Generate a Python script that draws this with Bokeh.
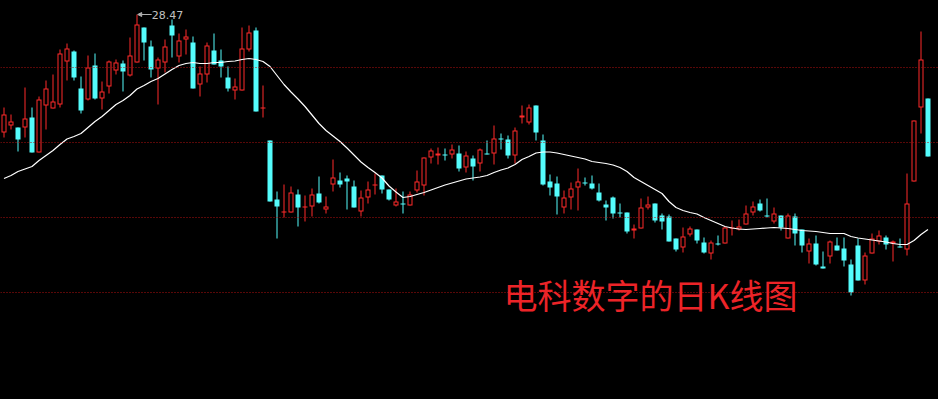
from bokeh.plotting import figure
from bokeh.models import ColumnDataSource, Range1d, Span, Label, Arrow, NormalHead
from bokeh.embed import file_html
from bokeh.resources import INLINE

# Daily OHLC (price) for 电科数字
opens = [23.75,24.03,23.95,23.95,24.35,22.95,24.83,24.71,24.87,26.59,
         26.99,25.51,25.07,26.43,25.11,25.59,26.23,26.51,26.03,26.55,
         27.95,27.19,26.31,26.55,28.03,26.79,27.47,27.35,25.67,26.07,
         27.03,26.63,25.95,25.43,25.43,27.07,27.83,24.73,23.43,21.07,
         20.57,20.55,21.27,20.77,20.79,21.31,20.67,21.67,21.83,21.91,
         21.59,20.59,21.15,21.65,22.03,21.47,20.83,20.91,20.83,21.43,
         21.63,22.75,22.83,22.87,22.87,22.91,22.35,22.71,22.51,22.91,
         22.91,23.51,23.47,22.83,24.35,24.15,24.83,23.43,21.79,21.71,
         20.75,21.15,21.55,21.75,21.71,21.35,20.87,21.15,20.55,20.55,
         19.83,19.91,20.75,20.91,20.43,20.39,19.51,19.15,19.67,19.87,
         19.35,18.91,19.31,19.31,19.93,19.87,20.07,20.55,20.91,20.43,
         20.19,20.43,19.51,20.39,19.87,18.99,19.31,18.39,18.79,19.23,
         19.11,18.47,19.23,17.83,18.91,19.39,19.55,19.31,19.19,19.07,
         21.79,24.75,25.11]
highs = [24.75,24.47,23.95,25.55,24.75,25.19,25.83,26.07,27.07,27.31,
         27.03,25.99,26.83,26.91,25.79,26.63,26.67,26.63,27.55,28.47,
         27.95,27.43,26.75,27.47,28.27,27.71,27.87,27.59,26.39,27.35,
         27.71,27.07,26.39,25.91,27.95,28.03,27.95,25.63,23.43,21.39,
         21.67,21.59,21.47,21.23,21.51,21.99,21.19,22.67,22.15,22.03,
         21.83,21.43,21.79,22.11,22.03,21.47,21.51,21.39,21.39,22.23,
         22.75,23.11,23.15,23.11,23.27,23.23,22.99,22.83,23.11,23.43,
         24.03,23.71,23.63,23.95,24.83,24.87,24.83,23.67,22.07,21.99,
         21.43,21.75,22.31,21.95,22.03,21.71,21.03,21.19,20.91,20.55,
         20.07,21.11,21.19,20.91,20.51,20.47,19.51,19.95,19.99,19.87,
         19.55,19.43,19.63,19.99,20.23,20.27,20.83,20.99,21.07,21.11,
         20.75,20.43,20.51,20.51,19.87,19.51,19.63,18.99,19.43,19.55,
         19.55,18.67,19.51,18.95,19.71,19.83,19.63,19.43,19.51,22.11,
         24.23,27.79,25.11]
lows = [23.55,23.87,22.99,23.55,22.95,22.95,23.87,24.71,24.75,25.83,
        25.83,24.51,25.03,25.07,24.67,25.31,26.07,25.39,25.99,26.55,
        26.63,25.95,24.87,26.15,26.75,26.55,26.87,25.51,25.19,25.75,
        26.47,25.95,25.39,25.07,25.43,26.99,24.59,24.35,20.99,19.51,
        20.35,20.55,19.99,20.19,20.39,20.91,20.51,21.39,21.55,20.67,
        20.75,20.39,20.91,21.27,21.31,21.03,20.79,20.51,20.83,21.35,
        21.23,22.51,22.47,22.63,22.71,22.19,22.15,21.83,22.19,22.87,
        22.47,23.07,22.71,22.51,24.11,24.07,23.43,21.63,21.23,20.47,
        20.51,20.67,20.63,21.63,21.47,20.99,20.23,20.31,20.35,19.71,
        19.51,19.91,20.67,20.15,19.87,19.39,18.99,18.95,19.59,19.31,
        18.91,18.67,19.23,19.31,19.63,19.83,20.07,20.43,20.59,20.35,
        20.11,19.83,19.51,19.23,18.95,18.51,18.43,18.31,18.51,19.03,
        18.39,17.23,17.83,17.67,18.91,19.27,19.07,18.59,19.15,18.83,
        21.79,23.71,22.79]
closes = [24.47,24.19,23.47,24.31,22.95,25.07,25.51,24.99,26.91,27.11,
          25.95,24.63,26.35,25.11,25.39,26.59,26.55,26.19,26.83,28.07,
          27.35,26.27,26.67,27.19,27.63,27.43,27.59,25.51,26.11,27.23,
          26.47,26.39,25.51,25.59,27.11,27.75,24.59,24.75,20.99,20.79,
          20.59,21.35,20.75,20.79,21.27,20.95,20.79,21.95,21.67,21.79,
          20.75,21.15,21.47,21.67,21.47,21.07,20.99,20.89,21.27,21.79,
          22.75,23.03,22.91,22.85,23.07,22.31,22.83,22.39,23.07,22.89,
          23.51,23.49,22.83,23.83,24.43,24.75,23.75,21.67,21.55,21.19,
          21.15,21.51,21.79,21.73,21.51,21.03,20.75,20.51,20.53,19.79,
          19.91,20.75,20.87,20.23,20.19,19.39,19.07,19.59,19.91,19.43,
          18.95,19.35,19.29,19.95,19.95,19.99,20.51,20.79,20.63,20.41,
          20.51,19.95,20.43,19.71,19.23,19.31,18.47,18.31,19.39,19.03,
          18.63,17.35,17.83,18.83,19.51,19.63,19.27,19.39,19.17,20.91,
          24.23,26.67,22.79]
ma = [21.91,22.03,22.19,22.29,22.39,22.63,22.83,23.03,23.27,23.49,
      23.59,23.71,23.95,24.19,24.39,24.63,24.87,25.03,25.23,25.49,
      25.63,25.79,25.91,26.09,26.27,26.43,26.51,26.55,26.51,26.51,
      26.55,26.55,26.59,26.61,26.67,26.71,26.67,26.59,26.39,26.03,
      25.67,25.37,25.09,24.79,24.45,24.11,23.83,23.61,23.39,23.13,
      22.85,22.57,22.35,22.15,21.93,21.61,21.37,21.15,21.19,21.27,
      21.35,21.45,21.55,21.65,21.73,21.81,21.89,21.93,21.97,22.03,
      22.15,22.25,22.33,22.47,22.67,22.79,22.93,22.97,22.97,22.93,
      22.87,22.81,22.75,22.69,22.59,22.55,22.51,22.45,22.35,22.19,
      21.95,21.79,21.63,21.47,21.31,20.99,20.75,20.63,20.55,20.49,
      20.35,20.23,20.11,19.99,19.93,19.89,19.87,19.89,19.91,19.93,
      19.95,19.93,19.91,19.87,19.83,19.81,19.79,19.75,19.71,19.71,
      19.71,19.59,19.53,19.49,19.45,19.41,19.37,19.31,19.27,19.27,
      19.43,19.67,19.87]
grid_levels = [26.35, 23.35, 20.35, 17.35]
max_label = "28.47"
title_text = "电科数字的日K线图"

UP = "#ff2a2a"
DOWN = "#54fcfc"

Y0, Y1 = 13.07, 29.03
PX = (Y1 - Y0) / 399.0  # price per screen pixel

n = len(opens)
idx = list(range(n))
up = [c >= o for o, c in zip(opens, closes)]
tops = [max(o, c) for o, c in zip(opens, closes)]
bots = [min(o, c) for o, c in zip(opens, closes)]
# at least one pixel of body for doji candles
bots = [min(b, t - PX) for t, b in zip(tops, bots)]

src = ColumnDataSource(dict(
    x=idx, h=highs, l=lows, top=tops, bot=bots,
    color=[UP if u else DOWN for u in up],
))
up_i = [i for i in idx if up[i] and tops[i] - bots[i] > 2.5 * PX]
inner = ColumnDataSource(dict(
    x=up_i,
    top=[tops[i] - PX for i in up_i],
    bot=[bots[i] + PX for i in up_i],
))

p = figure(width=938, height=399, x_range=Range1d(-0.5, 133.5),
           y_range=Range1d(Y0, Y1), output_backend="svg",
           toolbar_location=None, min_border=0,
           x_axis_location=None, y_axis_location=None,
           background_fill_color="black", border_fill_color="black",
           outline_line_color=None)
p.grid.visible = False

for lv in grid_levels:
    p.add_layout(Span(location=lv, dimension="width", line_color="#b01010",
                      line_dash="1 2", line_width=1))

p.segment(x0="x", y0="h", x1="x", y1="l", color="color", line_width=1, source=src)
p.vbar(x="x", top="top", bottom="bot", width=5/7, fill_color="color",
       line_color=None, source=src)
p.vbar(x="x", top="top", bottom="bot", width=3/7, fill_color="black",
       line_color=None, source=inner)

p.line(idx, ma, line_color="white", line_width=1.2)

hi_i = highs.index(max(highs))
p.add_layout(Arrow(end=NormalHead(size=4, fill_color="#b0b0b0", line_color="#b0b0b0"),
                   x_start=hi_i + 2.1, y_start=max(highs), x_end=hi_i + 0.1, y_end=max(highs),
                   line_color="#b0b0b0", line_width=1))
p.add_layout(Label(x=hi_i + 2.1, y=max(highs), text=max_label, text_color="#c0c0c0",
                   text_font_size="11px", text_baseline="middle",
                   text_font="DejaVu Sans"))

p.add_layout(Label(x=503, y=105, x_units="screen", y_units="screen", text=title_text,
                   text_color="#ec2428", text_font_size="34px", text_baseline="middle",
                   text_font="Noto Sans CJK SC"))

html = file_html(p, INLINE)
html = html.replace("</head>",
                    "<style>html,body{margin:0;padding:0;background:#000;overflow:hidden;}</style></head>", 1)
open("out.html", "w").write(html)
